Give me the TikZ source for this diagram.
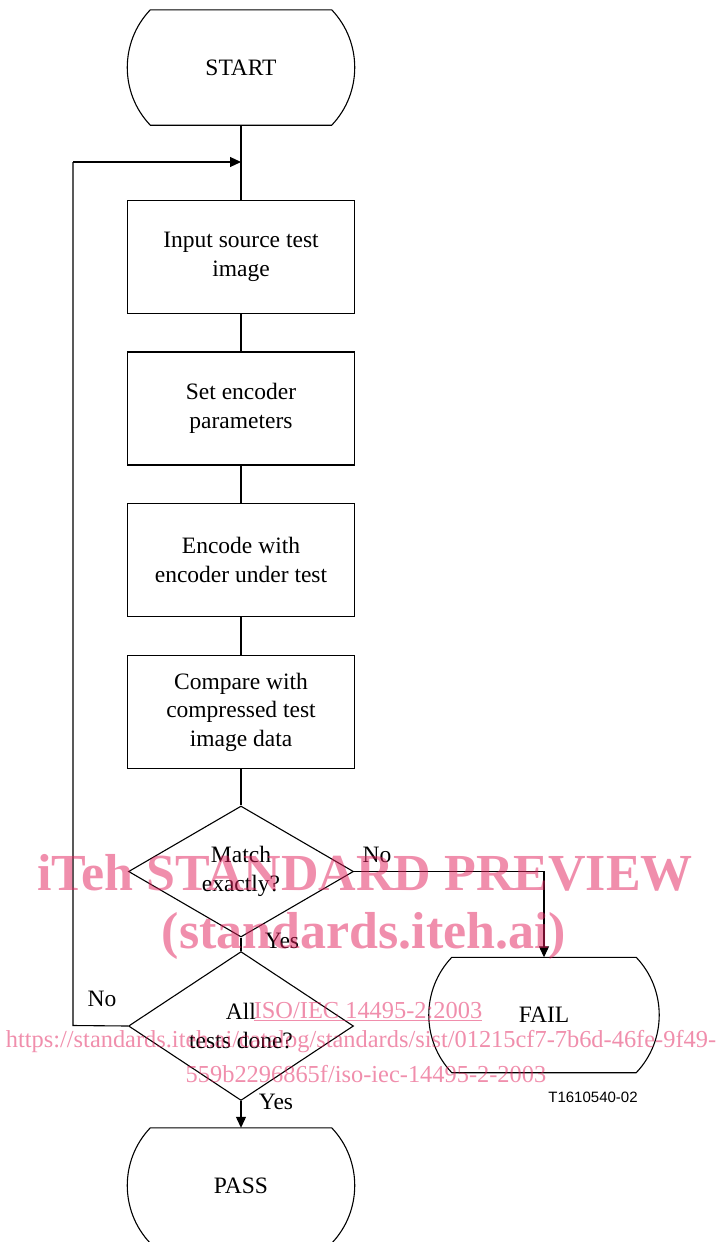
\documentclass[tikz,border=0pt]{standalone}
\usepackage{fontspec}
\setmainfont{Liberation Serif}
\newfontfamily\labelsans{Liberation Sans}
\usetikzlibrary{shapes.geometric,arrows.meta,calc}
\definecolor{wmcol}{RGB}{225,30,90}
\newcommand{\mainsz}{\fontsize{23.5}{28.5}\selectfont}
\tikzset{
  conn/.style={draw, line width=1.1pt},
  arr/.style={conn, -{Triangle[length=11pt,width=10pt]}},
  procbox/.style={draw, line width=1.1pt, minimum width=227pt, minimum height=113pt,
    align=center, inner sep=0pt, font=\mainsz},
  terminal/.style={minimum width=#1, minimum height=115pt, inner sep=0pt, font=\mainsz,
    append after command={\pgfextra{\draw[line width=1.1pt]
      (\tikzlastnode.north west) -- (\tikzlastnode.north east)
      .. controls ($(\tikzlastnode.north east)+(30.7pt,-32.2pt)$) and ($(\tikzlastnode.south east)+(30.7pt,32.2pt)$) .. (\tikzlastnode.south east)
      -- (\tikzlastnode.south west)
      .. controls ($(\tikzlastnode.south west)+(-30.7pt,32.2pt)$) and ($(\tikzlastnode.north west)+(-30.7pt,-32.2pt)$) .. (\tikzlastnode.north west)
      -- cycle;}}},
  terminal/.default=181pt,
  decision/.style={diamond, draw, line width=1.1pt, minimum width=225pt, minimum height=131pt,
    inner sep=0pt, align=center, font=\mainsz},
  lbl/.style={font=\mainsz, inner sep=0pt},
  wmbig/.style={text=wmcol, text opacity=0.5, font=\fontsize{52}{60}\selectfont\bfseries, anchor=base, inner sep=0pt},
  wmsmall/.style={text=wmcol, text opacity=0.5, font=\fontsize{24.4}{28}\selectfont, anchor=base, inner sep=0pt},
}
\begin{document}
\begin{tikzpicture}[x=1pt, y=-1pt]
\useasboundingbox (0,0) rectangle (720,1242);
\node[terminal] (start) at (241,67.5) {START};
\node[procbox] (b1) at (241,257) {Input source test\\image};
\node[procbox] (b2) at (241,408.5) {Set encoder\\parameters};
\node[procbox] (b3) at (241,560) {Encode with\\encoder under test};
\node[procbox] (b4) at (241,712) {Compare with\\compressed test\\image data};
\node[decision] (d1) at (241,871.5) {Match\\exactly?};
\node[decision] (d2) at (241,1026) {All\\tests done?};
\node[terminal=184pt] (fail) at (544,1015) {FAIL};
\node[terminal] (pass) at (241,1185.5) {PASS};
\coordinate (loopin) at (241,162);
\coordinate (loopbot) at (73,1025.5);
\coordinate (looptop) at (73,162);
\draw[conn] (start) -- (b1);
\draw[conn] (b1) -- (b2);
\draw[conn] (b2) -- (b3);
\draw[conn] (b3) -- (b4);
\draw[conn] (b4) -- (d1);
\draw[conn] (d1) -- (d2);
\draw[arr] (d1.east) -| (fail.north);
\draw[arr] (d2.south) -- (pass.north);
\draw[conn] (d2.west) -- (loopbot) -- (looptop);
\draw[arr] (looptop) -- (loopin);
\node[lbl] (no1) at (377,855) {No};
\node[lbl] (yes1) at (282,941) {Yes};
\node[lbl] (no2) at (102,999) {No};
\node[lbl] (yes2) at (276,1102) {Yes};
\node[font=\labelsans\fontsize{15}{18}\selectfont, inner sep=0pt] (code) at (593,1097) {T1610540-02};
% watermark
\node[wmbig] (wm1) at (365,890) {iTeh STANDARD PREVIEW};
\node[wmbig] (wm2) at (364,948) {(standards.iteh.ai)};
\node[wmsmall] (wm3) at (368,1018) {\underline{ISO/IEC 14495-2:2003}};
\node[wmsmall] (wm4) at (361,1047) {https://standards.iteh.ai/catalog/standards/sist/01215cf7-7b6d-46fe-9f49-};
\node[wmsmall] (wm5) at (366,1082) {559b2296865f/iso-iec-14495-2-2003};
\end{tikzpicture}
\end{document}
